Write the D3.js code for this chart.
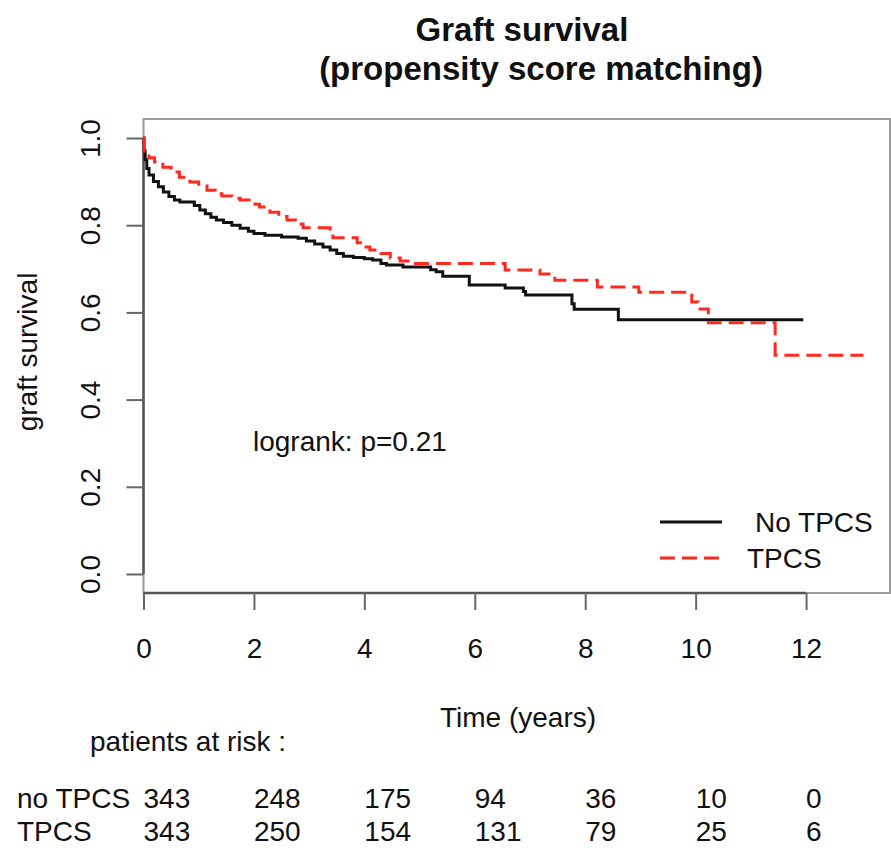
<!DOCTYPE html>
<html>
<head>
<meta charset="utf-8">
<script src="https://cdn.jsdelivr.net/npm/d3@7"></script>
<style>
  html, body { margin: 0; padding: 0; background: #fff; }
  svg text { font-family: "Liberation Sans", Arial, sans-serif; fill: #111; }
</style>
</head>
<body>
<svg id="chart" width="891" height="848"></svg>
<script>
// ---- data ----
const noTpcsTime = [0, 0.01, 0.03, 0.06, 0.10, 0.18, 0.27, 0.36, 0.46, 0.56, 0.66, 0.92, 1.02, 1.12, 1.22, 1.32, 1.45, 1.60, 1.75, 1.90, 2.00, 2.20, 2.50, 2.80, 2.95, 3.10, 3.25, 3.38, 3.50, 3.62, 3.80, 4.00, 4.15, 4.30, 4.40, 4.70, 5.20, 5.30, 5.42, 5.90, 6.55, 6.88, 6.92, 7.76, 7.80, 8.60, 11.95];
const noTpcsSurv = [1.0, 0.97, 0.95, 0.93, 0.915, 0.90, 0.888, 0.876, 0.866, 0.858, 0.853, 0.845, 0.835, 0.826, 0.818, 0.812, 0.806, 0.80, 0.793, 0.786, 0.781, 0.777, 0.773, 0.770, 0.764, 0.757, 0.750, 0.743, 0.735, 0.729, 0.726, 0.723, 0.720, 0.712, 0.709, 0.704, 0.698, 0.693, 0.683, 0.663, 0.656, 0.648, 0.640, 0.620, 0.607, 0.583, 0.583];

const tpcsTime = [0, 0.01, 0.10, 0.20, 0.35, 0.50, 0.65, 0.84, 1.00, 1.15, 1.30, 1.42, 1.60, 1.75, 2.02, 2.10, 2.29, 2.45, 2.60, 2.75, 2.89, 3.38, 3.43, 3.87, 4.00, 4.10, 4.30, 4.47, 4.65, 4.83, 6.55, 7.18, 7.45, 8.22, 8.97, 9.93, 10.05, 10.23, 11.44, 13.04];
const tpcsSurv = [1.0, 0.965, 0.955, 0.945, 0.933, 0.922, 0.910, 0.899, 0.890, 0.880, 0.872, 0.867, 0.862, 0.858, 0.848, 0.842, 0.830, 0.820, 0.812, 0.803, 0.794, 0.780, 0.771, 0.760, 0.750, 0.743, 0.735, 0.725, 0.718, 0.712, 0.697, 0.688, 0.674, 0.658, 0.646, 0.624, 0.608, 0.576, 0.502, 0.502];

const xTicks = [0, 2, 4, 6, 8, 10, 12];
const yTicks = [0.0, 0.2, 0.4, 0.6, 0.8, 1.0];
const yTickLabels = ["0.0", "0.2", "0.4", "0.6", "0.8", "1.0"];
const riskTimes = [0, 2, 4, 6, 8, 10, 12];
const riskNoTpcs = [343, 248, 175, 94, 36, 10, 0];
const riskTpcs = [343, 250, 154, 131, 79, 25, 6];
const groupNames = ["No TPCS", "TPCS"];
const riskRowNames = ["no TPCS", "TPCS"];

// ---- layout ----
const svg = d3.select("#chart");
const box = { left: 143.5, right: 890, top: 119, bottom: 593 };
const x = d3.scaleLinear().domain([0, 13.52]).range([box.left, box.right]);
const y = d3.scaleLinear().domain([-0.0436, 1.0436]).range([box.bottom, box.top]);

const FS = 28;

// title
svg.append("text").attr("x", 522).attr("y", 41).attr("text-anchor", "middle")
  .style("font-size", "33px").style("font-weight", "bold").text("Graft survival");
svg.append("text").attr("x", 541).attr("y", 80).attr("text-anchor", "middle")
  .style("font-size", "33px").style("font-weight", "bold").text("(propensity score matching)");

// plot box
svg.append("rect").attr("x", box.left).attr("y", box.top)
  .attr("width", box.right - box.left).attr("height", box.bottom - box.top)
  .attr("fill", "none").attr("stroke", "#9a9a9a").attr("stroke-width", 2);

// x axis
const xAxis = svg.append("g").attr("transform", `translate(0,${box.bottom})`)
  .call(d3.axisBottom(x).tickValues(xTicks).tickSize(17).tickPadding(28).tickFormat(d3.format("d")));
xAxis.select(".domain").attr("stroke", "#555").attr("stroke-width", 2.5)
  .attr("d", `M${x(0)},0H${x(12)}`);
xAxis.selectAll(".tick line").attr("stroke", "#666").attr("stroke-width", 2);
xAxis.selectAll(".tick text").style("font-size", FS + "px").attr("fill", "#111")
  .attr("font-family", null).attr("dy", "0.71em");

// y axis
const yAxis = svg.append("g").attr("transform", `translate(${box.left},0)`)
  .call(d3.axisLeft(y).tickValues(yTicks).tickSize(17).tickFormat((d, i) => yTickLabels[i]));
yAxis.select(".domain").attr("stroke", "#555").attr("stroke-width", 2.5)
  .attr("d", `M0,${y(0)}V${y(1)}`);
yAxis.selectAll(".tick line").attr("stroke", "#666").attr("stroke-width", 2);
yAxis.selectAll(".tick text").style("font-size", FS + "px").attr("fill", "#111")
  .attr("font-family", null)
  .attr("x", null).attr("dy", null)
  .attr("text-anchor", "middle")
  .attr("transform", "translate(-44,0) rotate(-90)");

// y label
svg.append("text").attr("transform", "translate(37,352) rotate(-90)")
  .attr("text-anchor", "middle").style("font-size", FS + "px").text("graft survival");

// curves
const line = d3.line().x(d => x(d[0])).y(d => y(d[1])).curve(d3.curveStepAfter);
const noData = noTpcsTime.map((t, i) => [t, noTpcsSurv[i]]);
const tData = tpcsTime.map((t, i) => [t, tpcsSurv[i]]);

svg.append("path").datum(noData).attr("d", line)
  .attr("fill", "none").attr("stroke", "#111").attr("stroke-width", 3);
svg.append("path").datum(tData).attr("d", line)
  .attr("fill", "none").attr("stroke", "#ff2a1f").attr("stroke-width", 3)
  .attr("stroke-dasharray", "15,7");

// logrank annotation
svg.append("text").attr("x", 253).attr("y", 451).style("font-size", FS + "px").text("logrank: p=0.21");

// legend
const legend = svg.append("g");
legend.append("line").attr("x1", 660).attr("x2", 722).attr("y1", 522).attr("y2", 522)
  .attr("stroke", "#111").attr("stroke-width", 3);
legend.append("text").attr("x", 755).attr("y", 532).style("font-size", FS + "px").text(groupNames[0]);
legend.append("line").attr("x1", 660).attr("x2", 722).attr("y1", 558).attr("y2", 558)
  .attr("stroke", "#ff2a1f").attr("stroke-width", 3).attr("stroke-dasharray", "15,7");
legend.append("text").attr("x", 747).attr("y", 568).style("font-size", FS + "px").text(groupNames[1]);

// x label
svg.append("text").attr("x", 518).attr("y", 727).attr("text-anchor", "middle")
  .style("font-size", FS + "px").text("Time (years)");

// risk table
svg.append("text").attr("x", 90).attr("y", 751).style("font-size", FS + "px").text("patients at risk :");
const rows = [riskNoTpcs, riskTpcs];
const rowY = [808, 841];
rows.forEach((vals, r) => {
  svg.append("text").attr("x", 17).attr("y", rowY[r]).style("font-size", FS + "px").text(riskRowNames[r]);
  svg.selectAll(null).data(vals).enter().append("text")
    .attr("x", (d, i) => x(riskTimes[i]))
    .attr("y", rowY[r])
    .style("font-size", FS + "px")
    .text(d => d);
});
</script>
</body>
</html>
